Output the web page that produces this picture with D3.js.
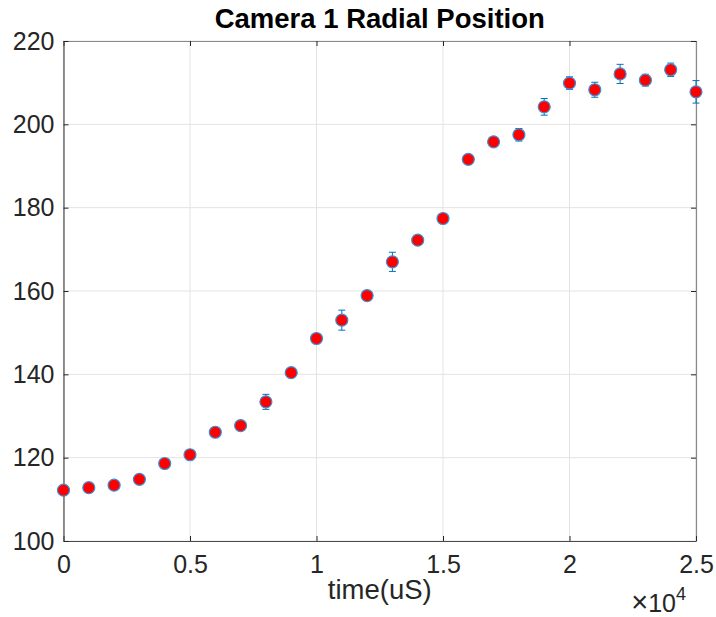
<!DOCTYPE html>
<html>
<head>
<meta charset="utf-8">
<script src="https://cdn.jsdelivr.net/npm/d3@7"></script>
<style>
  html, body { margin: 0; padding: 0; background: #fff; }
  svg { display: block; font-family: "Liberation Sans", Arial, Helvetica, sans-serif; }
</style>
</head>
<body>
<svg id="chart" width="716" height="617"></svg>
<script>
// Sample times (µs), measured radial position and its uncertainty
const times = [0, 1000, 2000, 3000, 4000, 5000, 6000, 7000, 8000, 9000,
  10000, 11000, 12000, 13000, 14000, 15000, 16000, 17000, 18000, 19000,
  20000, 21000, 22000, 23000, 24000, 25000];
const radius = [112.2, 112.8, 113.4, 114.8, 118.6, 120.7, 126.1, 127.7, 133.4, 140.4,
  148.6, 153.0, 158.9, 167.0, 172.2, 177.4, 191.6, 195.8, 197.5, 204.2,
  209.9, 208.3, 212.1, 210.6, 213.1, 207.8];
const radiusErr = [0.4, 0.5, 0.8, 1.0, 1.2, 0.7, 0.8, 0.7, 1.8, 0.6,
  1.0, 2.4, 1.0, 2.3, 0.6, 0.7, 0.9, 0.7, 1.5, 2.0,
  1.5, 1.8, 2.3, 1.4, 1.6, 2.7];
const xTicks = [0, 5000, 10000, 15000, 20000, 25000];
const xTickLabels = ["0", "0.5", "1", "1.5", "2", "2.5"];
const yTicks = [100, 120, 140, 160, 180, 200, 220];

(function () {
  const svg = d3.select("#chart");
  const plotL = 63.5, plotR = 696, plotT = 41, plotB = 541;
  const axisColor = "#262626";
  const lineBlue = "#0072BD";

  const x = d3.scaleLinear().domain([0, 25000]).range([plotL, plotR]);
  const y = d3.scaleLinear().domain([100, 220]).range([plotB, plotT]);

  // Grid
  const grid = svg.append("g");
  grid.selectAll("line.gx").data(xTicks).join("line").attr("class", "gx")
    .attr("x1", d => x(d)).attr("x2", d => x(d))
    .attr("y1", plotT).attr("y2", plotB)
    .attr("stroke", "#e3e3e3").attr("stroke-width", 1);
  grid.selectAll("line.gy").data(yTicks).join("line").attr("class", "gy")
    .attr("x1", plotL).attr("x2", plotR)
    .attr("y1", d => y(d)).attr("y2", d => y(d))
    .attr("stroke", "#e3e3e3").attr("stroke-width", 1);

  // Axes (box with inward ticks)
  const tickLen = 5;
  const xAxisB = d3.axisBottom(x).tickValues(xTicks).tickSizeInner(-tickLen).tickSizeOuter(0)
    .tickFormat((d, i) => xTickLabels[i]).tickPadding(14);
  const xAxisT = d3.axisTop(x).tickValues(xTicks).tickSizeInner(-tickLen).tickSizeOuter(0).tickFormat("");
  const yAxisL = d3.axisLeft(y).tickValues(yTicks).tickSizeInner(-tickLen).tickSizeOuter(0).tickPadding(9);
  const yAxisR = d3.axisRight(y).tickValues(yTicks).tickSizeInner(-tickLen).tickSizeOuter(0).tickFormat("");

  function styleAxis(g, strokeCol) {
    g.selectAll("path.domain").attr("stroke", strokeCol).attr("stroke-width", 1.2);
    g.selectAll(".tick line").attr("stroke", axisColor).attr("stroke-width", 1);
    g.selectAll(".tick text").attr("fill", axisColor)
      .style("font-size", "25px").style("font-family", "'Liberation Sans', Arial, Helvetica, sans-serif");
  }

  svg.append("g").attr("transform", `translate(0,${plotT})`).call(xAxisT).call(g => styleAxis(g, "#8a8a8a"));
  svg.append("g").attr("transform", `translate(${plotR},0)`).call(yAxisR).call(g => styleAxis(g, "#8a8a8a"));
  svg.append("g").attr("transform", `translate(0,${plotB})`).call(xAxisB).call(g => styleAxis(g, "#4a4a4a"));
  svg.append("g").attr("transform", `translate(${plotL},0)`).call(yAxisL).call(g => styleAxis(g, "#4a4a4a"));

  // Error bars
  const eb = svg.append("g").attr("stroke", lineBlue).attr("stroke-width", 1).attr("fill", "none");
  const cap = 3.5;
  times.forEach((t, i) => {
    const cx = x(t);
    const y1 = y(radius[i] - radiusErr[i]);
    const y2 = y(radius[i] + radiusErr[i]);
    eb.append("line").attr("x1", cx).attr("x2", cx).attr("y1", y1).attr("y2", y2);
    eb.append("line").attr("x1", cx - cap).attr("x2", cx + cap).attr("y1", y1).attr("y2", y1);
    eb.append("line").attr("x1", cx - cap).attr("x2", cx + cap).attr("y1", y2).attr("y2", y2);
  });

  // Markers
  svg.append("g").selectAll("circle").data(times).join("circle")
    .attr("cx", d => x(d))
    .attr("cy", (d, i) => y(radius[i]))
    .attr("r", 6)
    .attr("fill", "#ff0000")
    .attr("stroke", "#3a8fd6")
    .attr("stroke-width", 1.2);

  // Title
  svg.append("text")
    .attr("x", (plotL + plotR) / 2).attr("y", 28)
    .attr("text-anchor", "middle")
    .attr("fill", "#000")
    .style("font-size", "27.5px").style("font-weight", "bold")
    .text("Camera 1 Radial Position");

  // X label
  svg.append("text")
    .attr("x", (plotL + plotR) / 2).attr("y", 599)
    .attr("text-anchor", "middle")
    .attr("fill", axisColor)
    .style("font-size", "27.5px")
    .text("time(uS)");

  // Exponent label
  const ex = svg.append("text")
    .attr("x", 686).attr("y", 612)
    .attr("text-anchor", "end")
    .attr("fill", axisColor)
    .style("font-size", "25px");
  ex.append("tspan").style("font-size", "29px").text("\u00d7");
  ex.append("tspan").text("10");
  ex.append("tspan").attr("dy", -12).style("font-size", "18px").text("4");
})();
</script>
</body>
</html>
